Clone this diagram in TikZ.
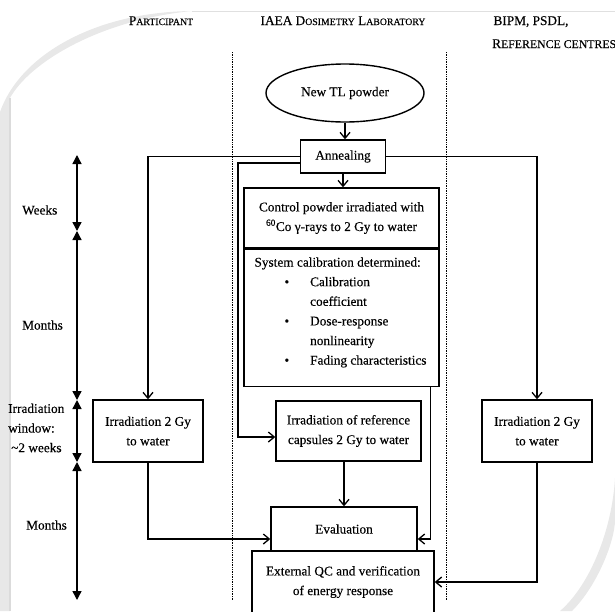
\documentclass[tikz,border=0pt]{standalone}
\usepackage{fontspec}
\setmainfont{Liberation Serif}[FakeBold=0.3]
\usetikzlibrary{arrows.meta,positioning,shapes.geometric}

% faked small caps: first letters full size, rest smaller
\newcommand{\fsc}[3][9.8]{#2{\fontsize{#1}{12}\selectfont #3}}

\begin{document}
\begin{tikzpicture}[
    x=1pt, y=-1pt,
    font=\fontsize{13.3}{19.6}\selectfont,
    box/.style={draw, line width=1.4pt, inner sep=0pt, align=center},
    flow/.style={line width=1.4pt, -{Straight Barb[length=6pt,width=10pt,line width=1.3pt]}},
    span/.style={line width=1.4pt, {Triangle[length=9pt,width=9pt]}-{Triangle[length=9pt,width=9pt]}},
    lane/.style={dash pattern=on 1pt off 0.7pt, line width=1pt},
    head/.style={anchor=base, inner sep=0pt},
    tlabel/.style={anchor=west, inner sep=0pt, align=left},
  ]
  \useasboundingbox (0,0) rectangle (615,611);

  % page curl shading
  \fill[black!9] (0,112) .. controls (20,55) and (95,12) .. (192,11)
    .. controls (100,20) and (30,62) .. (10,98) -- (10,611) -- (0,611) -- cycle;
  \draw[black!14, line width=1.5pt] (10,98) -- (10,611);
  \draw[black!12, line width=1pt] (192,11) -- (615,11);
  \fill[black!9] (615,478) .. controls (612,530) and (590,585) .. (560,611)
    -- (572,611) .. controls (598,585) and (615,540) .. (615,520) -- cycle;

  % ========= HEADERS =========
  \node[head] (hpart) at (161,25) {\fsc{P}{ARTICIPANT}};
  \node[head] (hiaea) at (343,25) {\fsc{IAEA D}{OSIMETRY} \fsc{L}{ABORATORY}};
  \node[head] (hbipm) at (531,25) {BIPM, PSDL,};
  \node[anchor=base west, inner sep=0pt] (href) at (492,48) {\fsc[11.8]{R}{EFERENCE CENTRES}};

  % lanes
  \draw[lane] (232,52) -- (232,600);
  \draw[lane] (446,52) -- (446,600);

  % ========= TIME AXIS =========
  \coordinate (t0) at (77,155);
  \coordinate (t1) at (77,231);
  \coordinate (t2) at (77,400);
  \coordinate (t3) at (77,462);
  \coordinate (t4) at (77,600);
  \draw[span] (t0) -- (t1);
  \draw[span] (t1) -- (t2);
  \draw[span] (t2) -- (t3);
  \draw[span] (t3) -- (t4);
  \node[tlabel] (weeks) at (22,210) {Weeks};
  \node[tlabel] (monthsA) at (22,325) {Months};
  \node[tlabel] (irrwin) at (8,428) {Irradiation\\window:\\\hspace{3pt}\textasciitilde2 weeks};
  \node[tlabel] (monthsB) at (26,525) {Months};

  % ========= BOXES =========
  \node[box, ellipse, minimum width=158pt, minimum height=58pt] (powder) at (345,93) {New TL powder};
  \node[box, minimum width=85pt, minimum height=33pt] (anneal) at (343,156.5) {Annealing};
  \node[box, minimum width=195pt, minimum height=60pt] (ctrl) at (341.5,218)
    {Control powder irradiated with\\\textsuperscript{60}Co γ-rays to 2 Gy to water};
  \node[box, minimum width=195pt, minimum height=137pt, anchor=north] (calib) at (ctrl.south) {};
  \node[anchor=north west, inner sep=0pt, align=left] (calibtxt) at ([xshift=11pt,yshift=-4pt]calib.north west)
    {\begin{tabular}{@{\hspace{30pt}}l@{\hspace{21pt}}l@{}}
      \multicolumn{2}{@{}l@{}}{System calibration determined:}\\
      \textbullet & Calibration\\
                  & coefficient\\
      \textbullet & Dose-response\\
                  & nonlinearity\\
      \textbullet & Fading characteristics
    \end{tabular}};

  \node[box, minimum width=110pt, minimum height=62pt] (irrP) at (148,431) {Irradiation 2 Gy\\to water};
  \node[box, minimum width=145pt, minimum height=60pt] (refcap) at (348.5,431) {Irradiation of reference\\capsules 2 Gy to water};
  \node[box, minimum width=110pt, minimum height=62pt] (irrR) at (537,431) {Irradiation 2 Gy\\to water};

  \node[box, minimum width=146pt, minimum height=44pt] (eval) at (344,529) {Evaluation};
  \node[box, minimum width=182pt, minimum height=62pt] (qc) at (343,582) {External QC and verification\\of energy response};

  % ========= CONNECTORS =========
  \draw[flow] (powder.south) -- (powder.south |- anneal.north);
  \draw[flow] (anneal.south) -- (anneal.south |- ctrl.north);
  \draw[flow] (anneal.west) -| (irrP.north);
  \draw[flow] (anneal.east) -| (irrR.north);
  \coordinate (refbend) at (238,163);
  \draw[flow] (anneal.west |- refbend) -- (refbend) |- ([yshift=-6pt]refcap.west);
  \draw[flow] ([xshift=-9.5pt]calib.south east) |- ([yshift=-10pt]eval.east);
  \draw[flow] (refcap.south -| eval.north) -- (eval.north);
  \draw[flow] (irrP.south) |- ([yshift=-10pt]eval.west);
  \draw[flow] (irrR.south) |- (qc.east);
\end{tikzpicture}
\end{document}
